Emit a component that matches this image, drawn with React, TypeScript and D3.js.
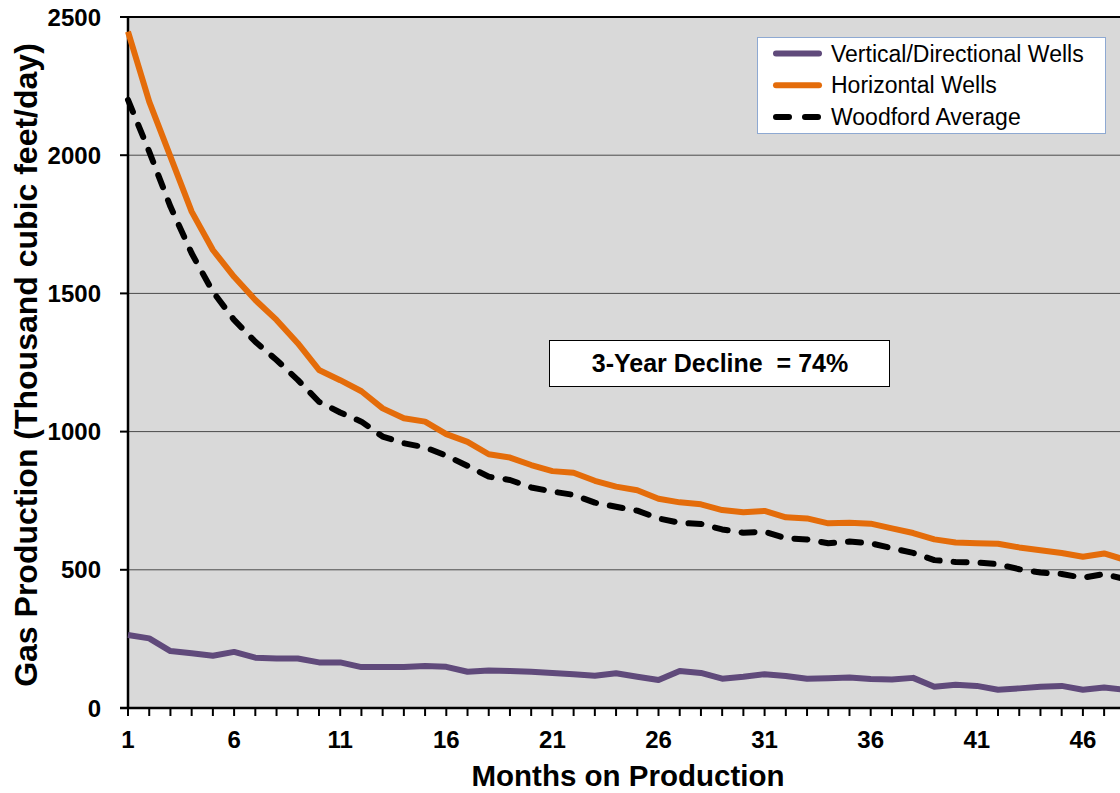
import { useEffect, useRef } from 'react'
import * as d3 from 'd3'

// months on production 1..48
const months = d3.range(1, 49)

const verticalWells = [
  264, 252, 206, 198, 189, 203, 182, 179, 179, 165,
  165, 148, 148, 148, 152, 149, 131, 136, 134, 131,
  127, 122, 117, 126, 113, 101, 134, 127, 106, 113,
  122, 116, 106, 108, 110, 105, 103, 109, 77, 84,
  80, 66, 71, 77, 80, 66, 74, 66,
]

const horizontalWells = [
  2447, 2194, 1995, 1796, 1657, 1560, 1476, 1404, 1320, 1223,
  1186, 1146, 1084, 1048, 1036, 991, 963, 918, 906, 879,
  857, 851, 822, 801, 788, 757, 744, 737, 716, 708,
  713, 690, 686, 668, 670, 667, 650, 633, 610, 599,
  596, 594, 581, 571, 561, 547, 559, 536,
]

const woodfordAverage = [
  2200, 2013, 1814, 1645, 1506, 1404, 1325, 1259, 1187, 1108,
  1069, 1036, 982, 958, 943, 913, 876, 837, 825, 798,
  783, 771, 743, 728, 714, 686, 670, 666, 646, 634,
  638, 614, 610, 596, 602, 596, 578, 561, 535, 528,
  527, 520, 502, 490, 485, 471, 485, 466,
]

const yTicks = [0, 500, 1000, 1500, 2000, 2500]
const xLabelTicks = [1, 6, 11, 16, 21, 26, 31, 36, 41, 46]

const seriesList = [
  { name: 'Vertical/Directional Wells', values: verticalWells, color: '#604a7b', dash: null },
  { name: 'Horizontal Wells', values: horizontalWells, color: '#e46c0a', dash: null },
  { name: 'Woodford Average', values: woodfordAverage, color: '#000000', dash: '13 14' },
]

const W = 1120
const H = 793
const FONT = 'Liberation Sans, Arial, sans-serif'

export default function App() {
  const svgRef = useRef<SVGSVGElement>(null)

  useEffect(() => {
    if (!svgRef.current) return
    const svg = d3.select(svgRef.current)
    svg.selectAll('*').remove()

    const left = 128
    const top = 17
    const bottom = 708
    const monthStep = 21.22

    const x = d3.scaleLinear().domain([1, 48]).range([left, left + 47 * monthStep])
    const y = d3.scaleLinear().domain([0, 2500]).range([bottom, top])

    // plot background
    svg.append('rect')
      .attr('x', left)
      .attr('y', top)
      .attr('width', W - left + 20)
      .attr('height', bottom - top)
      .attr('fill', '#d9d9d9')

    // gridlines
    svg.append('g')
      .selectAll('line')
      .data(yTicks.filter(t => t > 0 && t < 2500))
      .join('line')
      .attr('x1', left)
      .attr('x2', W + 10)
      .attr('y1', d => y(d))
      .attr('y2', d => y(d))
      .attr('stroke', '#4a4a4a')
      .attr('stroke-width', 1)

    // top border
    svg.append('line')
      .attr('x1', left)
      .attr('x2', W + 10)
      .attr('y1', y(2500))
      .attr('y2', y(2500))
      .attr('stroke', '#000')
      .attr('stroke-width', 2)

    // y axis
    const yAxis = svg.append('g')
    yAxis.append('line')
      .attr('x1', left).attr('x2', left)
      .attr('y1', top - 1).attr('y2', bottom + 1)
      .attr('stroke', '#000').attr('stroke-width', 2.5)
    yAxis.selectAll('line.tick')
      .data(yTicks)
      .join('line')
      .attr('class', 'tick')
      .attr('x1', left - 8).attr('x2', left)
      .attr('y1', d => y(d)).attr('y2', d => y(d))
      .attr('stroke', '#000').attr('stroke-width', 2)
    yAxis.selectAll('text')
      .data(yTicks)
      .join('text')
      .attr('x', 101)
      .attr('y', d => y(d) + 8.5)
      .attr('text-anchor', 'end')
      .attr('font-family', FONT)
      .attr('font-weight', 'bold')
      .attr('font-size', 24)
      .attr('fill', '#000')
      .text(d => String(d))

    // x axis
    const xAxis = svg.append('g')
    xAxis.append('line')
      .attr('x1', left - 8).attr('x2', W + 10)
      .attr('y1', bottom).attr('y2', bottom)
      .attr('stroke', '#000').attr('stroke-width', 2.5)
    xAxis.selectAll('line.tick')
      .data(months)
      .join('line')
      .attr('class', 'tick')
      .attr('x1', d => x(d)).attr('x2', d => x(d))
      .attr('y1', bottom).attr('y2', bottom + 8)
      .attr('stroke', '#000').attr('stroke-width', 2)
    xAxis.selectAll('text')
      .data(xLabelTicks)
      .join('text')
      .attr('x', d => x(d))
      .attr('y', 748)
      .attr('text-anchor', 'middle')
      .attr('font-family', FONT)
      .attr('font-weight', 'bold')
      .attr('font-size', 24)
      .attr('fill', '#000')
      .text(d => String(d))

    // axis titles
    svg.append('text')
      .attr('x', 628)
      .attr('y', 786)
      .attr('text-anchor', 'middle')
      .attr('font-family', FONT)
      .attr('font-weight', 'bold')
      .attr('font-size', 29.5)
      .text('Months on Production')

    svg.append('text')
      .attr('transform', `translate(37, 365) rotate(-90)`)
      .attr('text-anchor', 'middle')
      .attr('font-family', FONT)
      .attr('font-weight', 'bold')
      .attr('font-size', 32)
      .text('Gas Production (Thousand cubic feet/day)')

    // series lines
    const line = d3.line<number>()
      .x((_, i) => x(months[i]))
      .y(d => y(d))

    seriesList.forEach(s => {
      svg.append('path')
        .datum(s.values)
        .attr('d', line)
        .attr('fill', 'none')
        .attr('stroke', s.color)
        .attr('stroke-width', 6)
        .attr('stroke-linejoin', 'round')
        .attr('stroke-linecap', s.dash ? 'round' : 'butt')
        .attr('stroke-dasharray', s.dash)
    })

    // annotation box
    const note = svg.append('g')
    note.append('rect')
      .attr('x', 549.5).attr('y', 340.5)
      .attr('width', 340).attr('height', 46)
      .attr('fill', '#fff')
      .attr('stroke', '#000').attr('stroke-width', 1)
    note.append('text')
      .attr('x', 720).attr('y', 372)
      .attr('text-anchor', 'middle')
      .attr('font-family', FONT)
      .attr('font-weight', 'bold')
      .attr('font-size', 25)
      .attr('xml:space', 'preserve')
      .text('3-Year Decline  = 74%')

    // legend
    const legend = svg.append('g')
    legend.append('rect')
      .attr('x', 757.5).attr('y', 37.5)
      .attr('width', 348).attr('height', 96)
      .attr('fill', '#fff')
      .attr('stroke', '#8ea9d2').attr('stroke-width', 1)
    const rows = legend.selectAll('g.row')
      .data(seriesList)
      .join('g')
      .attr('class', 'row')
      .attr('transform', (_, i) => `translate(0, ${53.5 + i * 31.7})`)
    rows.append('line')
      .attr('x1', 776).attr('x2', 819)
      .attr('y1', 0).attr('y2', 0)
      .attr('stroke', d => d.color)
      .attr('stroke-width', 6)
      .attr('stroke-linecap', 'round')
      .attr('stroke-dasharray', d => (d.dash ? '13 16' : null))
    rows.append('text')
      .attr('x', 831).attr('y', 8)
      .attr('font-family', FONT)
      .attr('font-size', 23)
      .attr('fill', '#000')
      .text(d => d.name)
  }, [])

  return (
    <svg
      ref={svgRef}
      width={W}
      height={H}
      style={{ position: 'absolute', left: 0, top: 0, background: '#fff', display: 'block' }}
    />
  )
}
